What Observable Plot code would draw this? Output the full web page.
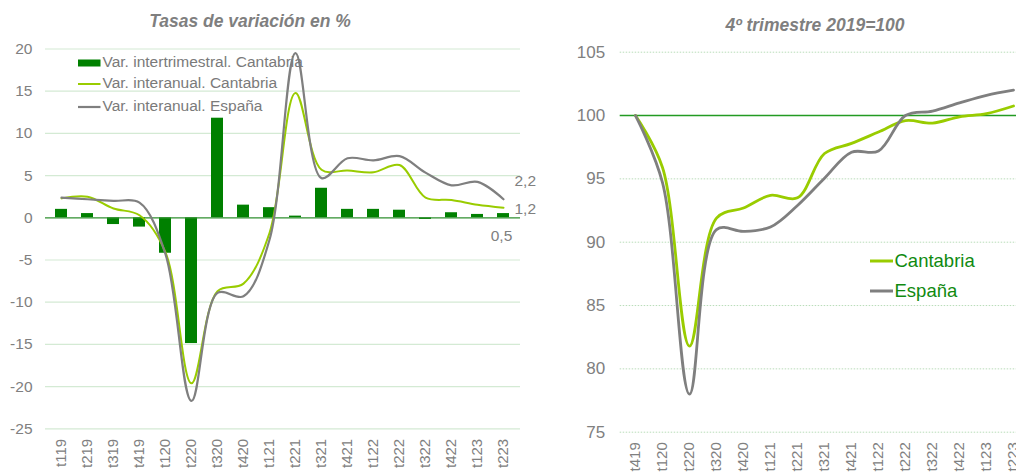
<!DOCTYPE html>
<html><head><meta charset="utf-8">
<script src="https://cdn.jsdelivr.net/npm/d3@7"></script>
<script src="https://cdn.jsdelivr.net/npm/@observablehq/plot@0.6"></script>
<style>
html,body{margin:0;padding:0;background:#fff;overflow:hidden;}
#wrap{position:relative;width:1016px;height:472px;overflow:hidden;font-family:"Liberation Sans",Arial,sans-serif;background:#fff;}
.abs{position:absolute;white-space:nowrap;}
.ttl{font-weight:bold;font-style:italic;font-size:17.5px;line-height:20px;color:#7f7f7f;text-align:center;}
.lg{font-size:15.5px;line-height:20px;color:#7a7a7a;}
.lg2{font-size:18.5px;line-height:22px;color:#108a10;}
svg{position:absolute;top:0;}
</style></head><body><div id="wrap"></div>
<script>
// ---------- DATA ----------
const quarters = ["t119","t219","t319","t419","t120","t220","t320","t420","t121","t221","t321","t421","t122","t222","t322","t422","t123","t223"];
const qoqCantabria = [1.0,0.5,-0.8,-1.1,-4.2,-14.9,11.8,1.5,1.2,0.2,3.5,1.0,1.0,0.9,-0.2,0.6,0.4,0.5];
const yoyCantabria = [2.3,2.5,1.1,0.3,-4.1,-19.6,-8.7,-7.8,-1.8,14.8,5.7,5.6,5.4,6.25,2.4,2.1,1.55,1.2];
const yoySpain = [2.4,2.2,2.0,1.8,-4.3,-21.7,-8.9,-9.3,-2.6,19.5,4.7,7.05,6.8,7.3,5.35,3.85,4.25,2.2];
const leftTicks = [-25,-20,-15,-10,-5,0,5,10,15,20];
const endLabels = ["2,2","1,2","0,5"];

const indexQuarters = ["t419","t120","t220","t320","t420","t121","t221","t321","t421","t122","t222","t322","t422","t123","t223"];
const indexCantabria = [100,95.9,81.8,91.9,92.7,93.7,93.5,97.0,97.8,98.7,99.6,99.4,99.9,100.15,100.75];
const indexSpain = [100,94.7,78.0,91.0,90.85,91.2,92.9,95.05,97.1,97.2,100.0,100.35,101.0,101.6,102.0];
const rightTicks = [75,80,85,90,95,100,105];

const leftTitle = "Tasas de variación en %";
const rightTitle = "4º trimestre 2019=100";
const leftLegend = ["Var. intertrimestral. Cantabria","Var. interanual. Cantabria","Var. interanual. España"];
const rightLegend = ["Cantabria","España"];

// ---------- COLOURS ----------
const cBar = "#008000", cCant = "#99cc00", cSpain = "#7f7f7f", cGrid = "#d4ead4", cText = "#808080";

const wrap = document.getElementById("wrap");
const fam = '"Liberation Sans", Arial, sans-serif';

const qoq = quarters.map((q,i)=>({q, v:qoqCantabria[i]}));
const yC = quarters.map((q,i)=>({q, v:yoyCantabria[i]}));
const yS = quarters.map((q,i)=>({q, v:yoySpain[i]}));
const last = quarters[quarters.length-1];
const endData = [
  {q:last, v:yoySpain[yoySpain.length-1], t:endLabels[0], dx:11, dy:-18, anchor:"start"},
  {q:last, v:yoyCantabria[yoyCantabria.length-1], t:endLabels[1], dx:11, dy:1, anchor:"start"},
  {q:last, v:qoqCantabria[qoqCantabria.length-1], t:endLabels[2], dx:-2, dy:22, anchor:"middle"}
];

const left = Plot.plot({
  width: 550, height: 472,
  marginLeft: 45, marginRight: 30, marginTop: 48.5, marginBottom: 43.7,
  style: {fontFamily: fam, fontSize: "15.5px", color: cText, background: "transparent", overflow: "visible"},
  x: {type: "band", domain: quarters, paddingInner: 0.53, paddingOuter: 0.265, axis: null},
  y: {domain: [-25, 20], axis: null},
  marks: [
    Plot.ruleY(leftTicks.filter(d => d !== 0), {stroke: cGrid, strokeWidth: 1.2}),
    Plot.barY(qoq, {x: "q", y: "v", fill: cBar}),
    Plot.ruleY([0], {stroke: "#2f8f2f", strokeWidth: 1.3}),
    Plot.lineY(yC, {x: "q", y: "v", stroke: cCant, strokeWidth: 2, curve: "catmull-rom"}),
    Plot.lineY(yS, {x: "q", y: "v", stroke: cSpain, strokeWidth: 2.2, curve: "catmull-rom"}),
    Plot.axisY({ticks: leftTicks, tickSize: 0, tickPadding: 13, tickFormat: d => String(d), label: null, fill: cText, fontSize: 15.5}),
    Plot.text(quarters, {x: d => d, frameAnchor: "bottom", dy: 10, rotate: -90, textAnchor: "end", lineAnchor: "middle", fill: cText, fontSize: 15}),
    ...endData.map(d => Plot.text([d], {x: "q", y: "v", text: "t", dx: d.dx, dy: d.dy, textAnchor: d.anchor, fill: cText, fontSize: 15.5}))
  ]
});
left.style.left = "0px";
wrap.appendChild(left);

const iC = indexQuarters.map((q,i)=>({q, v:indexCantabria[i]}));
const iS = indexQuarters.map((q,i)=>({q, v:indexSpain[i]}));

const right = Plot.plot({
  width: 470, height: 472,
  marginLeft: 59.7, marginRight: 1, marginTop: 51.7, marginBottom: 40.3,
  style: {fontFamily: fam, fontSize: "17px", color: cText, background: "transparent", overflow: "visible"},
  x: {type: "point", domain: indexQuarters, padding: 0.5, axis: null},
  y: {domain: [75, 105], axis: null},
  marks: [
    Plot.ruleY(rightTicks.filter(d => d !== 100), {stroke: "#b9dcb9", strokeWidth: 1, strokeDasharray: "1.5,1.5"}),
    Plot.ruleY([100], {stroke: "#239b23", strokeWidth: 1.4}),
    Plot.lineY(iC, {x: "q", y: "v", stroke: cCant, strokeWidth: 2.8, curve: "catmull-rom"}),
    Plot.lineY(iS, {x: "q", y: "v", stroke: cSpain, strokeWidth: 2.8, curve: "catmull-rom"}),
    Plot.axisY({ticks: rightTicks, tickSize: 0, tickPadding: 15, tickFormat: d => String(d), label: null, fill: cText, fontSize: 17}),
    Plot.text(indexQuarters, {x: d => d, frameAnchor: "bottom", dy: 10, rotate: -90, textAnchor: "end", lineAnchor: "middle", fill: cText, fontSize: 15})
  ]
});
right.style.left = "560px";
wrap.appendChild(right);

// ---------- TITLES ----------
function addDiv(cls, text, left, top, width) {
  const d = document.createElement("div");
  d.className = "abs " + cls;
  d.textContent = text;
  d.style.left = left + "px"; d.style.top = top + "px";
  if (width) d.style.width = width + "px";
  wrap.appendChild(d);
  return d;
}
addDiv("ttl", leftTitle, 0, 11, 500);
addDiv("ttl", rightTitle, 665, 15, 300);

// ---------- LEGENDS ----------
const leftRows = [61.7, 83.3, 105.7];
const leftSw = [
  `<rect x="0" y="-3.5" width="22.5" height="7" fill="${cBar}"/>`,
  `<line x1="0" x2="22.5" y1="0" y2="0" stroke="${cCant}" stroke-width="2"/>`,
  `<line x1="0" x2="22.5" y1="0" y2="0" stroke="${cSpain}" stroke-width="2.2"/>`
];
leftLegend.forEach((t, i) => {
  const s = document.createElementNS("http://www.w3.org/2000/svg", "svg");
  s.setAttribute("width", 24); s.setAttribute("height", 10);
  s.setAttribute("viewBox", "0 -5 24 10");
  s.style.position = "absolute"; s.style.left = "78px"; s.style.top = (leftRows[i] - 5 + 1) + "px";
  s.innerHTML = leftSw[i];
  wrap.appendChild(s);
  addDiv("lg", t, 102.5, leftRows[i] - 10);
});
const rightRows = [260.7, 290.7];
const rightCols = [cCant, cSpain];
rightLegend.forEach((t, i) => {
  const s = document.createElementNS("http://www.w3.org/2000/svg", "svg");
  s.setAttribute("width", 24); s.setAttribute("height", 10);
  s.setAttribute("viewBox", "0 -5 24 10");
  s.style.position = "absolute"; s.style.left = "870px"; s.style.top = (rightRows[i] - 5) + "px";
  s.innerHTML = `<line x1="0" x2="23" y1="0" y2="0" stroke="${rightCols[i]}" stroke-width="3"/>`;
  wrap.appendChild(s);
  addDiv("lg2", t, 894.5, rightRows[i] - 11);
});
</script>
</body></html>
